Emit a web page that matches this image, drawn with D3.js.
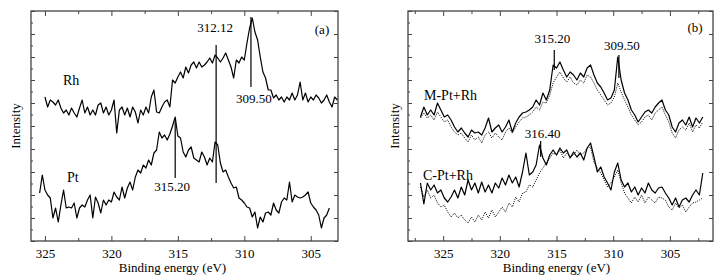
<!DOCTYPE html>
<html>
<head>
<meta charset="utf-8">
<script src="https://cdn.jsdelivr.net/npm/d3@7"></script>
<style>
body { margin: 0; background: #fff; }
svg text { font-family: "Liberation Serif", "Times New Roman", serif; fill: #000; }
</style>
</head>
<body>
<svg id="chart" width="722" height="280"></svg>
<script>
// panel (a): binding energy grid (eV) and intensities (a.u.)
var energyA = [325.4, 325.2,
  325.0, 324.8, 324.6, 324.4, 324.2, 324.0, 323.8, 323.6, 323.4, 323.2,
  323.0, 322.8, 322.6, 322.4, 322.2, 322.0, 321.8, 321.6, 321.4, 321.2,
  321.0, 320.8, 320.6, 320.4, 320.2, 320.0, 319.8, 319.6, 319.4, 319.2,
  319.0, 318.8, 318.6, 318.4, 318.2, 318.0, 317.8, 317.6, 317.4, 317.2,
  317.0, 316.8, 316.6, 316.4, 316.2, 316.0, 315.8, 315.6, 315.4, 315.2,
  315.0, 314.8, 314.6, 314.4, 314.2, 314.0, 313.8, 313.6, 313.4, 313.2,
  313.0, 312.8, 312.6, 312.4, 312.2, 312.0, 311.8, 311.6, 311.4, 311.2,
  311.0, 310.8, 310.6, 310.4, 310.2, 310.0, 309.8, 309.6, 309.4, 309.2,
  309.0, 308.8, 308.6, 308.4, 308.2, 308.0, 307.8, 307.6, 307.4, 307.2,
  307.0, 306.8, 306.6, 306.4, 306.2, 306.0, 305.8, 305.6, 305.4, 305.2,
  305.0, 304.8, 304.6, 304.4, 304.2, 304.0, 303.8, 303.6, 303.4, 303.2,
  303.0];

var rhCounts = [null, null,
  144, 134, 141, 139, 136, 141, 133, 128, 131, 126,
  133, 128, 124, 133, 141, 128, 134, 126, 131, 126,
  136, 138, 128, 134, 126, 131, 141, 108, 131, 134,
  126, 133, 124, 134, 129, 118, 131, 126, 134, 128,
  144, 151, 129, 128, 134, 139, 141, 134, 161, 158,
  164, 169, 163, 174, 168, 176, 179, 173, 179, 174,
  176, 179, 183, 178, 186, 183, 179, 183, 188, 181,
  174, 163, 181, 178, 184, 181, 198, 213, 223, 209,
  201, 184, 169, 163, 151, 151, 143, 146, 141, 144,
  139, 144, 141, 148, 141, 146, 159, 141, 148, 139,
  144, 141, 146, 143, 138, 141, 146, 139, 134, 144,
  141];

var ptCounts = [48, 66,
  51, 46, 43, 23, 33, 19, 36, 51, 33, 34,
  33, 38, 23, 33, 36, 34, 41, 46, 23, 44,
  38, 28, 41, 36, 41, 39, 49, 44, 41, 54,
  43, 53, 59, 51, 64, 71, 68, 76, 73, 81,
  76, 88, 91, 109, 103, 106, 101, 107, 115, 124,
  105, 103, 89, 84, 91, 94, 83, 81, 79, 89,
  84, 76, 83, 79, 99, 96, 78, 69, 71, 64,
  58, 53, 54, 43, 41, 38, 34, 33, 24, 29,
  13, 24, 19, 28, 29, 26, 38, 31, 28, 39,
  43, 41, 59, 39, 46, 44, 43, 44, 46, 49,
  38, 34, 31, 26, 13, 23, 26, 33, null, null,
  null];

// panel (b)
var energyB = [327.0, 326.7, 326.4, 326.1, 325.8, 325.5, 325.2, 324.9, 324.6, 324.3,
  324.0, 323.7, 323.4, 323.1, 322.8, 322.5, 322.2, 321.9, 321.6, 321.3,
  321.0, 320.7, 320.4, 320.1, 319.8, 319.5, 319.2, 318.9, 318.6, 318.3,
  318.0, 317.7, 317.4, 317.1, 316.8, 316.5, 316.2, 315.9, 315.6, 315.3,
  315.0, 314.7, 314.4, 314.1, 313.8, 313.5, 313.2, 312.9, 312.6, 312.3,
  312.0, 311.7, 311.4, 311.1, 310.8, 310.5, 310.2, 309.9, 309.6, 309.3,
  309.0, 308.7, 308.4, 308.1, 307.8, 307.5, 307.2, 306.9, 306.6, 306.3,
  306.0, 305.7, 305.4, 305.1, 304.8, 304.5, 304.2, 303.9, 303.6, 303.3,
  303.0, 302.7, 302.4, 302.1];

var mSolid = [124, 134, 126, 131, 126, 138, 131, 124, 126, 121,
  114, 109, 113, 108, 104, 111, 108, 109, 106, 113,
  123, 109, 113, 116, 109, 114, 121, 109, 118, 124,
  128, 129, 131, 134, 141, 136, 148, 141, 151, 176,
  173, 179, 171, 164, 169, 166, 161, 168, 164, 173,
  176, 166, 158, 154, 148, 141, 143, 151, 184, 161,
  148, 141, 131, 126, 119, 124, 129, 131, 128, 134,
  138, 141, 131, 126, 114, 109, 118, 121, 116, 124,
  114, 123, 118, 124];

var mDotted = [123, 128, 123, 126, 121, 129, 124, 119, 121, 114,
  109, 106, 108, 103, 99, 106, 101, 104, 98, 106,
  109, 103, 108, 104, 101, 109, 113, 108, 114, 119,
  123, 124, 126, 129, 134, 131, 139, 138, 146, 158,
  164, 169, 163, 159, 164, 158, 156, 161, 158, 166,
  164, 158, 151, 146, 141, 136, 138, 144, 158, 149,
  141, 134, 126, 121, 116, 119, 124, 126, 121, 128,
  131, 134, 126, 119, 108, 103, 111, 114, 111, 118,
  109, 116, 113, 119];

var cSolid = [58, 37, 58, 51, 56, 48, 51, 43, 39, 44,
  51, 43, 54, 46, 61, 51, 58, 48, 59, 49,
  56, 48, 58, 53, 63, 56, 66, 58, 64, 54,
  69, 88, 66, 69, 76, 96, 83, 76, 86, 91,
  86, 93, 88, 91, 83, 89, 84, 88, 81, 93,
  98, 84, 69, 74, 64, 58, 51, 69, 78, 61,
  54, 58, 49, 54, 46, 53, 48, 58, 51, 48,
  53, 54, 48, 43, 36, 43, 34, 41, 43, 39,
  46, 51, 46, 68];

var cDotted = [54, 44, 51, 43, 46, 38, 34, 36, 29, 24,
  28, 23, 26, 21, 18, 24, 19, 26, 21, 29,
  23, 31, 24, 29, 34, 29, 38, 34, 44, 39,
  48, 49, 56, 54, 61, 68, 73, 78, 83, 88,
  86, 91, 83, 88, 84, 86, 91, 86, 88, 93,
  94, 79, 73, 68, 61, 54, 58, 64, 71, 58,
  48, 43, 38, 44, 39, 46, 38, 44, 41, 38,
  44, 43, 41, 34, 31, 38, 33, 36, 29, 34,
  38, 39, 41, 43];

// peak markers: energy, line top / bottom (a.u.), label baseline (a.u.)
var peaksA = [312.12, 309.50, 315.20];
var peakTopA = [196, 224, 121];
var peakBottomA = [58, 154, 63];
var peakLabelA = [209, 138, 50];
var peakShiftA = [-1, 3, -3];

var peaksB = [315.20, 309.50, 316.40];
var peakTopB = [191, 186, 100];
var peakBottomB = [171, 163, 84];
var peakLabelB = [198, 191, 103];
var peakShiftB = [-2, 3, 2];

var xTicks = [325, 320, 315, 310, 305];
var xMinorTicks = [327.5, 322.5, 317.5, 312.5, 307.5, 302.5];
var yTicks = [0, 23, 46, 69, 92, 115, 138, 161, 184, 207, 230];
var yMinorTicks = [11.5, 34.5, 57.5, 80.5, 103.5, 126.5, 149.5, 172.5, 195.5, 218.5];

var svg = d3.select("#chart");
var frameColor = "#444";

function styleAxis(sel) {
  sel.select(".domain").remove();
  sel.selectAll("line").attr("stroke", frameColor).attr("stroke-width", 1);
  sel.selectAll("text").attr("font-size", 13)
    .attr("font-family", "Liberation Serif, Times New Roman, serif")
    .attr("fill", "#000");
}

function drawPanel(p) {
  var x = d3.scaleLinear().domain(p.domain).range([p.left, p.right]);
  var y = d3.scaleLinear().domain([0, 230]).range([241, 11]);
  var g = svg.append("g");
  var minor = xMinorTicks.filter(function(v){ return v < p.domain[0] && v > p.domain[1]; });

  // x axes, ticks point inward
  g.append("g").attr("transform", "translate(0,241)")
    .call(d3.axisBottom(x).tickValues(xTicks).tickSize(-5).tickPadding(8).tickFormat(d3.format("d")))
    .call(styleAxis);
  g.append("g").attr("transform", "translate(0,241)")
    .call(d3.axisBottom(x).tickValues(minor).tickSize(-3).tickFormat(""))
    .call(styleAxis);
  g.append("g").attr("transform", "translate(0,11)")
    .call(d3.axisTop(x).tickValues(xTicks).tickSize(-5).tickFormat(""))
    .call(styleAxis);
  g.append("g").attr("transform", "translate(0,11)")
    .call(d3.axisTop(x).tickValues(minor).tickSize(-3).tickFormat(""))
    .call(styleAxis);

  // y axes without labels
  g.append("g").attr("transform", "translate(" + p.left + ",0)")
    .call(d3.axisLeft(y).tickValues(yTicks).tickSize(-4).tickFormat(""))
    .call(styleAxis);
  g.append("g").attr("transform", "translate(" + p.left + ",0)")
    .call(d3.axisLeft(y).tickValues(yMinorTicks).tickSize(-2).tickFormat(""))
    .call(styleAxis);
  g.append("g").attr("transform", "translate(" + p.right + ",0)")
    .call(d3.axisRight(y).tickValues(yTicks).tickSize(-4).tickFormat(""))
    .call(styleAxis);

  g.append("rect")
    .attr("x", p.left).attr("y", 11)
    .attr("width", p.right - p.left).attr("height", 230)
    .attr("fill", "none").attr("stroke", frameColor).attr("stroke-width", 1.3);

  var line = d3.line()
    .defined(function(d){ return d[1] != null; })
    .x(function(d){ return x(d[0]); })
    .y(function(d){ return y(d[1]); });

  p.series.forEach(function(s){
    var pts = p.energy.map(function(e, i){ return [e, s.values[i]]; });
    g.append("path").datum(pts)
      .attr("fill", "none")
      .attr("stroke", "#000")
      .attr("stroke-width", s.dash ? 1 : 1.2)
      .attr("stroke-linejoin", "round")
      .attr("stroke-dasharray", s.dash || null)
      .attr("d", line);
  });

  // peak markers
  p.peaks.forEach(function(e, i){
    g.append("line")
      .attr("x1", x(e)).attr("x2", x(e))
      .attr("y1", y(p.top[i])).attr("y2", y(p.bottom[i]))
      .attr("stroke", "#000").attr("stroke-width", 1.2);
    g.append("text")
      .attr("x", x(e) + p.shift[i]).attr("y", y(p.label[i]))
      .attr("text-anchor", "middle").attr("font-size", 13)
      .text(e.toFixed(2));
  });

  // series names
  p.names.forEach(function(n){
    g.append("text").attr("x", n.x).attr("y", n.y)
      .attr("font-size", 14).text(n.text);
  });

  g.append("text").attr("x", p.tagX).attr("y", p.tagY)
    .attr("text-anchor", "middle").attr("font-size", 13).text(p.tag);

  g.append("text")
    .attr("x", (p.left + p.right) / 2 + p.titleShift).attr("y", 272)
    .attr("text-anchor", "middle").attr("font-size", 13)
    .text("Binding energy (eV)");

  g.append("text")
    .attr("transform", "translate(" + p.yTitleX + ",126) rotate(-90)")
    .attr("text-anchor", "middle").attr("font-size", 13)
    .text("Intensity");
}

drawPanel({
  domain: [326.05, 302.95], left: 31, right: 338,
  energy: energyA,
  series: [{values: rhCounts}, {values: ptCounts}],
  peaks: peaksA, top: peakTopA, bottom: peakBottomA, label: peakLabelA, shift: peakShiftA,
  names: [{text: "Rh", x: 63, y: 85}, {text: "Pt", x: 67, y: 182}],
  tag: "(a)", tagX: 322, tagY: 34,
  titleShift: -12, yTitleX: 20
});

drawPanel({
  domain: [328.1, 301.2], left: 408, right: 713,
  energy: energyB,
  series: [{values: mDotted, dash: "1,1.2"}, {values: cDotted, dash: "1,1.2"},
           {values: mSolid}, {values: cSolid}],
  peaks: peaksB, top: peakTopB, bottom: peakBottomB, label: peakLabelB, shift: peakShiftB,
  names: [{text: "M-Pt+Rh", x: 424, y: 100}, {text: "C-Pt+Rh", x: 423, y: 180}],
  tag: "(b)", tagX: 695, tagY: 32,
  titleShift: -4, yTitleX: 399
});
</script>
</body>
</html>
